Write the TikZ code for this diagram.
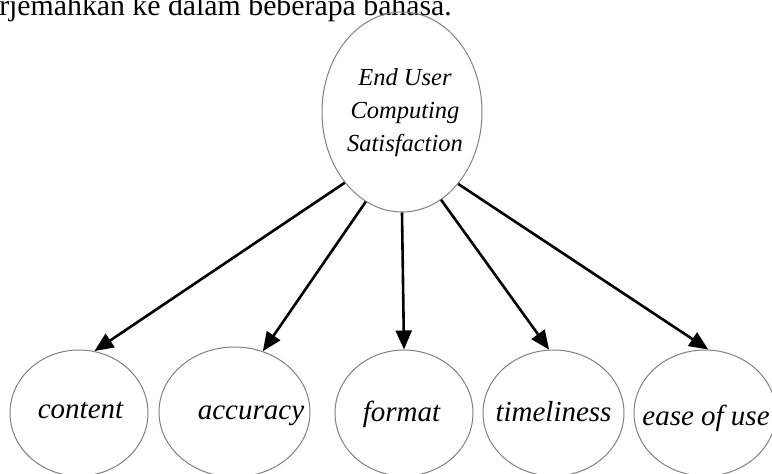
\documentclass[tikz,border=0pt]{standalone}
\usepackage{fontspec}
\setmainfont{Liberation Serif}
\usetikzlibrary{shapes.geometric,arrows.meta}
\begin{document}
\begin{tikzpicture}[x=1pt,y=-1pt,
  ell/.style={draw=black!50, line width=1pt, ellipse, inner sep=0pt},
  lbl/.style={font=\fontsize{29}{32}\selectfont\itshape, anchor=base, inner sep=0pt},
  arr/.style={-{Triangle[length=19pt,width=16pt]}, line width=2.6pt, black}]
\useasboundingbox (0,0) rectangle (772,474);
\clip (0,0) rectangle (772,474);
\node[anchor=base east, inner sep=0pt, font=\fontsize{29.8}{32}\selectfont] (para) at (452,15.5) {diterjemahkan ke dalam beberapa bahasa.};
% top ellipse
\node[ell, minimum width=160pt, minimum height=200pt] (top) at (402,112) {};
\node[align=center, inner sep=0pt, font=\fontsize{24.5}{33}\selectfont\itshape] (toptext) at (405,113) {End User\\Computing\\Satisfaction};
% bottom ellipses
\node[ell, minimum width=138pt, minimum height=126pt] (content) at (79,413) {};
\node[ell, minimum width=151pt, minimum height=130pt] (accuracy) at (234.5,412) {};
\node[ell, minimum width=138pt, minimum height=126pt] (format) at (404,413) {};
\node[ell, minimum width=141pt, minimum height=126pt] (timeliness) at (553.5,413) {};
\node[ell, minimum width=142pt, minimum height=126pt] (ease) at (705,413) {};
% labels
\node[lbl] (contentlbl) at (80.5,418) {content};
\node[lbl] (accuracylbl) at (251,419) {accuracy};
\node[lbl] (formatlbl) at (401.5,421) {format};
\node[lbl] (timelinesslbl) at (553.5,421) {timeliness};
\node[lbl] (easelbl) at (706,425) {ease of use};
% arrows
\draw[arr] (top.231) -- (content.76);
\draw[arr] (top.248) -- (accuracy.65);
\draw[arr] (top.270) -- (format.90);
\draw[arr] (top.294) -- (timeliness.94);
\draw[arr] (top.308) -- (ease.87);
\end{tikzpicture}
\end{document}
